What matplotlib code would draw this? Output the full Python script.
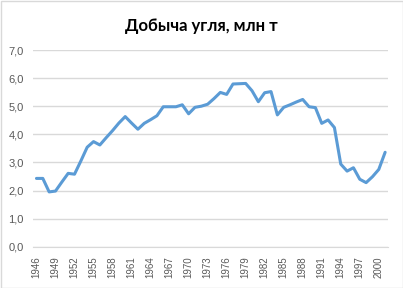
import matplotlib
matplotlib.use("Agg")
import matplotlib.pyplot as plt
from matplotlib.patches import Rectangle

years = list(range(1946, 2002))
coal = [2.43, 2.43, 1.95, 1.98, 2.30, 2.61, 2.58, 3.05, 3.54, 3.74,
        3.62, 3.88, 4.13, 4.40, 4.63, 4.40, 4.18, 4.39, 4.52, 4.66,
        4.98, 4.98, 4.98, 5.05, 4.73, 4.96, 5.00, 5.07, 5.27, 5.49,
        5.42, 5.79, 5.80, 5.81, 5.55, 5.16, 5.48, 5.52, 4.69, 4.96,
        5.05, 5.15, 5.24, 4.98, 4.95, 4.39, 4.51, 4.24, 2.94, 2.69,
        2.81, 2.40, 2.28, 2.49, 2.75, 3.36]
y_ticks = [0, 1, 2, 3, 4, 5, 6, 7]
title = "Добыча угля, млн т"

plt.rcParams['font.family'] = ['Liberation Sans', 'DejaVu Sans']

fig = plt.figure(figsize=(4.03, 2.88), dpi=100)
ax = fig.add_axes([33.3 / 403, 1 - 246.7 / 288, 355 / 403, 196.7 / 288])

x = list(range(len(years)))
ax.plot(x, coal, color='#5B9BD5', lw=2.2, solid_joinstyle='round',
        solid_capstyle='round')

ax.set_xlim(-0.5, len(years) - 0.5)
ax.set_ylim(0, 7)
ax.set_yticks(y_ticks)
ax.set_yticklabels([f"{v:.1f}".replace('.', ',') for v in y_ticks])
ax.set_xticks(x[::3])
ax.set_xticklabels([str(y) for y in years[::3]], rotation=90)

ax.grid(axis='y', color='#D9D9D9', lw=1)
ax.set_axisbelow(True)
for side in ['top', 'right', 'left']:
    ax.spines[side].set_visible(False)
ax.spines['bottom'].set_color('#D9D9D9')
ax.tick_params(length=0, colors='#595959')
ax.tick_params(axis='y', labelsize=8, pad=7)
ax.tick_params(axis='x', labelsize=7, pad=7)

fig.text(0.5, 1 - 26 / 288, title, ha='center', va='center',
         fontsize=12, fontweight='bold', color='#000000',
         family=['Lato', 'DejaVu Sans'])

fig.patches.append(Rectangle((0.5 / 403, 0.5 / 288), 1 - 1 / 403, 1 - 1 / 288,
                             transform=fig.transFigure, fill=False,
                             edgecolor='#D9D9D9', lw=1))

fig.savefig('out.png', dpi=100)
